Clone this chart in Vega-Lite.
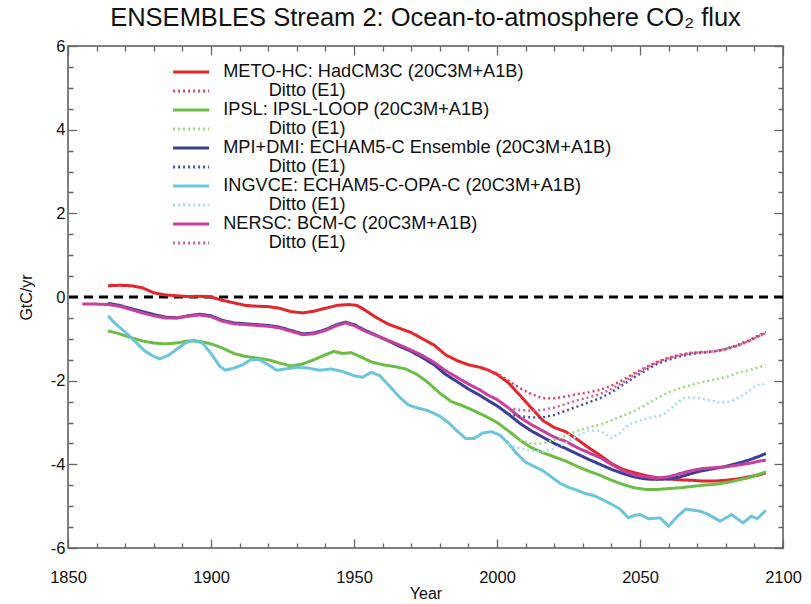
{
  "$schema": "https://vega.github.io/schema/vega-lite/v6.json",
  "width": 715,
  "height": 502,
  "autosize": "none",
  "padding": {"left": 68, "top": 46, "right": 28, "bottom": 56},
  "background": "white",
  "config": {
    "font": "Liberation Sans",
    "view": {"stroke": "#555", "strokeWidth": 1.5},
    "axis": {"labelFont": "Liberation Sans", "titleFont": "Liberation Sans", "labelColor": "#111", "titleColor": "#111", "domain": false, "grid": false, "labelFontSize": 16.5, "titleFontSize": 16, "titleFontWeight": "normal", "labelOverlap": false, "labelFlush": false, "ticks": true, "tickColor": "#666", "tickWidth": 1.3, "tickSize": 9, "offset": -9}
  },
  "title": {"text": "ENSEMBLES Stream 2: Ocean-to-atmosphere CO₂ flux", "fontSize": 25.5, "fontWeight": "normal", "font": "Liberation Sans", "color": "#111", "anchor": "middle", "offset": 7},
  "datasets": {
    "solid": [
      {"k":"S1","x":1864,"y":0.27},{"k":"S1","x":1868,"y":0.28},{"k":"S1","x":1872,"y":0.27},{"k":"S1","x":1876,"y":0.22},{"k":"S1","x":1880,"y":0.1},{"k":"S1","x":1884,"y":0.05},{"k":"S1","x":1888,"y":0.03},{"k":"S1","x":1892,"y":0.01},{"k":"S1","x":1896,"y":0.02},{"k":"S1","x":1900,"y":0.0},{"k":"S1","x":1904,"y":-0.08},{"k":"S1","x":1908,"y":-0.14},{"k":"S1","x":1912,"y":-0.2},{"k":"S1","x":1916,"y":-0.22},{"k":"S1","x":1920,"y":-0.23},{"k":"S1","x":1924,"y":-0.27},{"k":"S1","x":1928,"y":-0.35},{"k":"S1","x":1932,"y":-0.38},{"k":"S1","x":1936,"y":-0.34},{"k":"S1","x":1940,"y":-0.27},{"k":"S1","x":1944,"y":-0.2},{"k":"S1","x":1948,"y":-0.18},{"k":"S1","x":1951,"y":-0.2},{"k":"S1","x":1954,"y":-0.32},{"k":"S1","x":1958,"y":-0.5},{"k":"S1","x":1962,"y":-0.65},{"k":"S1","x":1966,"y":-0.75},{"k":"S1","x":1970,"y":-0.85},{"k":"S1","x":1974,"y":-1.0},{"k":"S1","x":1978,"y":-1.15},{"k":"S1","x":1982,"y":-1.38},{"k":"S1","x":1986,"y":-1.52},{"k":"S1","x":1990,"y":-1.62},{"k":"S1","x":1994,"y":-1.68},{"k":"S1","x":1997,"y":-1.75},{"k":"S1","x":2000,"y":-1.85},{"k":"S1","x":2004,"y":-2.05},{"k":"S1","x":2008,"y":-2.35},{"k":"S1","x":2012,"y":-2.65},{"k":"S1","x":2016,"y":-2.95},{"k":"S1","x":2020,"y":-3.12},{"k":"S1","x":2024,"y":-3.22},{"k":"S1","x":2028,"y":-3.4},{"k":"S1","x":2032,"y":-3.6},{"k":"S1","x":2036,"y":-3.78},{"k":"S1","x":2040,"y":-3.98},{"k":"S1","x":2044,"y":-4.12},{"k":"S1","x":2048,"y":-4.2},{"k":"S1","x":2052,"y":-4.27},{"k":"S1","x":2056,"y":-4.32},{"k":"S1","x":2060,"y":-4.35},{"k":"S1","x":2064,"y":-4.37},{"k":"S1","x":2068,"y":-4.38},{"k":"S1","x":2072,"y":-4.4},{"k":"S1","x":2076,"y":-4.4},{"k":"S1","x":2080,"y":-4.38},{"k":"S1","x":2084,"y":-4.35},{"k":"S1","x":2088,"y":-4.3},{"k":"S1","x":2092,"y":-4.25},{"k":"S1","x":2094,"y":-4.2},
      {"k":"S2","x":1864,"y":-0.81},{"k":"S2","x":1868,"y":-0.88},{"k":"S2","x":1872,"y":-0.97},{"k":"S2","x":1876,"y":-1.05},{"k":"S2","x":1880,"y":-1.1},{"k":"S2","x":1884,"y":-1.12},{"k":"S2","x":1888,"y":-1.1},{"k":"S2","x":1892,"y":-1.05},{"k":"S2","x":1896,"y":-1.06},{"k":"S2","x":1900,"y":-1.12},{"k":"S2","x":1904,"y":-1.22},{"k":"S2","x":1908,"y":-1.35},{"k":"S2","x":1912,"y":-1.42},{"k":"S2","x":1916,"y":-1.46},{"k":"S2","x":1920,"y":-1.5},{"k":"S2","x":1924,"y":-1.58},{"k":"S2","x":1928,"y":-1.65},{"k":"S2","x":1932,"y":-1.6},{"k":"S2","x":1936,"y":-1.5},{"k":"S2","x":1940,"y":-1.38},{"k":"S2","x":1943,"y":-1.3},{"k":"S2","x":1946,"y":-1.35},{"k":"S2","x":1949,"y":-1.33},{"k":"S2","x":1952,"y":-1.42},{"k":"S2","x":1956,"y":-1.55},{"k":"S2","x":1960,"y":-1.62},{"k":"S2","x":1964,"y":-1.66},{"k":"S2","x":1968,"y":-1.72},{"k":"S2","x":1972,"y":-1.85},{"k":"S2","x":1976,"y":-2.05},{"k":"S2","x":1980,"y":-2.3},{"k":"S2","x":1984,"y":-2.5},{"k":"S2","x":1988,"y":-2.6},{"k":"S2","x":1992,"y":-2.72},{"k":"S2","x":1996,"y":-2.85},{"k":"S2","x":2000,"y":-3.0},{"k":"S2","x":2004,"y":-3.2},{"k":"S2","x":2008,"y":-3.42},{"k":"S2","x":2012,"y":-3.6},{"k":"S2","x":2016,"y":-3.72},{"k":"S2","x":2020,"y":-3.82},{"k":"S2","x":2024,"y":-3.92},{"k":"S2","x":2028,"y":-4.05},{"k":"S2","x":2032,"y":-4.16},{"k":"S2","x":2036,"y":-4.26},{"k":"S2","x":2040,"y":-4.38},{"k":"S2","x":2044,"y":-4.48},{"k":"S2","x":2048,"y":-4.56},{"k":"S2","x":2052,"y":-4.6},{"k":"S2","x":2056,"y":-4.6},{"k":"S2","x":2060,"y":-4.58},{"k":"S2","x":2064,"y":-4.56},{"k":"S2","x":2068,"y":-4.53},{"k":"S2","x":2072,"y":-4.5},{"k":"S2","x":2076,"y":-4.48},{"k":"S2","x":2080,"y":-4.44},{"k":"S2","x":2084,"y":-4.38},{"k":"S2","x":2088,"y":-4.32},{"k":"S2","x":2092,"y":-4.23},{"k":"S2","x":2094,"y":-4.18},
      {"k":"S4","x":1864,"y":-0.45},{"k":"S4","x":1866,"y":-0.6},{"k":"S4","x":1868,"y":-0.72},{"k":"S4","x":1871,"y":-0.9},{"k":"S4","x":1874,"y":-1.1},{"k":"S4","x":1877,"y":-1.3},{"k":"S4","x":1880,"y":-1.42},{"k":"S4","x":1882,"y":-1.48},{"k":"S4","x":1885,"y":-1.4},{"k":"S4","x":1888,"y":-1.25},{"k":"S4","x":1891,"y":-1.1},{"k":"S4","x":1894,"y":-1.03},{"k":"S4","x":1897,"y":-1.1},{"k":"S4","x":1900,"y":-1.35},{"k":"S4","x":1903,"y":-1.65},{"k":"S4","x":1905,"y":-1.75},{"k":"S4","x":1908,"y":-1.7},{"k":"S4","x":1911,"y":-1.62},{"k":"S4","x":1914,"y":-1.5},{"k":"S4","x":1917,"y":-1.5},{"k":"S4","x":1920,"y":-1.62},{"k":"S4","x":1923,"y":-1.75},{"k":"S4","x":1926,"y":-1.72},{"k":"S4","x":1930,"y":-1.68},{"k":"S4","x":1934,"y":-1.7},{"k":"S4","x":1938,"y":-1.75},{"k":"S4","x":1942,"y":-1.72},{"k":"S4","x":1946,"y":-1.78},{"k":"S4","x":1950,"y":-1.88},{"k":"S4","x":1953,"y":-1.92},{"k":"S4","x":1956,"y":-1.8},{"k":"S4","x":1959,"y":-1.88},{"k":"S4","x":1962,"y":-2.1},{"k":"S4","x":1966,"y":-2.4},{"k":"S4","x":1969,"y":-2.58},{"k":"S4","x":1972,"y":-2.65},{"k":"S4","x":1976,"y":-2.72},{"k":"S4","x":1980,"y":-2.85},{"k":"S4","x":1983,"y":-3.0},{"k":"S4","x":1986,"y":-3.2},{"k":"S4","x":1989,"y":-3.38},{"k":"S4","x":1992,"y":-3.38},{"k":"S4","x":1995,"y":-3.25},{"k":"S4","x":1998,"y":-3.22},{"k":"S4","x":2001,"y":-3.3},{"k":"S4","x":2004,"y":-3.5},{"k":"S4","x":2007,"y":-3.75},{"k":"S4","x":2010,"y":-3.95},{"k":"S4","x":2013,"y":-4.05},{"k":"S4","x":2016,"y":-4.15},{"k":"S4","x":2019,"y":-4.3},{"k":"S4","x":2022,"y":-4.45},{"k":"S4","x":2025,"y":-4.55},{"k":"S4","x":2028,"y":-4.62},{"k":"S4","x":2031,"y":-4.7},{"k":"S4","x":2034,"y":-4.75},{"k":"S4","x":2037,"y":-4.85},{"k":"S4","x":2040,"y":-4.95},{"k":"S4","x":2043,"y":-5.07},{"k":"S4","x":2046,"y":-5.28},{"k":"S4","x":2048,"y":-5.22},{"k":"S4","x":2050,"y":-5.2},{"k":"S4","x":2053,"y":-5.3},{"k":"S4","x":2057,"y":-5.28},{"k":"S4","x":2060,"y":-5.48},{"k":"S4","x":2063,"y":-5.25},{"k":"S4","x":2066,"y":-5.07},{"k":"S4","x":2069,"y":-5.1},{"k":"S4","x":2071,"y":-5.12},{"k":"S4","x":2074,"y":-5.2},{"k":"S4","x":2078,"y":-5.36},{"k":"S4","x":2082,"y":-5.2},{"k":"S4","x":2086,"y":-5.4},{"k":"S4","x":2089,"y":-5.24},{"k":"S4","x":2091,"y":-5.3},{"k":"S4","x":2094,"y":-5.1},
      {"k":"S3","x":1864,"y":-0.15},{"k":"S3","x":1868,"y":-0.2},{"k":"S3","x":1872,"y":-0.28},{"k":"S3","x":1876,"y":-0.35},{"k":"S3","x":1880,"y":-0.42},{"k":"S3","x":1884,"y":-0.48},{"k":"S3","x":1888,"y":-0.5},{"k":"S3","x":1892,"y":-0.45},{"k":"S3","x":1896,"y":-0.41},{"k":"S3","x":1900,"y":-0.45},{"k":"S3","x":1904,"y":-0.56},{"k":"S3","x":1908,"y":-0.62},{"k":"S3","x":1912,"y":-0.64},{"k":"S3","x":1916,"y":-0.66},{"k":"S3","x":1920,"y":-0.68},{"k":"S3","x":1924,"y":-0.72},{"k":"S3","x":1928,"y":-0.8},{"k":"S3","x":1932,"y":-0.88},{"k":"S3","x":1936,"y":-0.86},{"k":"S3","x":1940,"y":-0.78},{"k":"S3","x":1944,"y":-0.66},{"k":"S3","x":1947,"y":-0.6},{"k":"S3","x":1950,"y":-0.66},{"k":"S3","x":1954,"y":-0.8},{"k":"S3","x":1958,"y":-0.92},{"k":"S3","x":1962,"y":-1.05},{"k":"S3","x":1966,"y":-1.18},{"k":"S3","x":1970,"y":-1.3},{"k":"S3","x":1974,"y":-1.45},{"k":"S3","x":1978,"y":-1.62},{"k":"S3","x":1982,"y":-1.85},{"k":"S3","x":1986,"y":-2.02},{"k":"S3","x":1990,"y":-2.2},{"k":"S3","x":1994,"y":-2.35},{"k":"S3","x":1997,"y":-2.48},{"k":"S3","x":2000,"y":-2.6},{"k":"S3","x":2004,"y":-2.8},{"k":"S3","x":2008,"y":-3.02},{"k":"S3","x":2012,"y":-3.2},{"k":"S3","x":2016,"y":-3.35},{"k":"S3","x":2020,"y":-3.5},{"k":"S3","x":2024,"y":-3.62},{"k":"S3","x":2028,"y":-3.75},{"k":"S3","x":2032,"y":-3.88},{"k":"S3","x":2036,"y":-4.0},{"k":"S3","x":2040,"y":-4.12},{"k":"S3","x":2044,"y":-4.22},{"k":"S3","x":2048,"y":-4.3},{"k":"S3","x":2052,"y":-4.35},{"k":"S3","x":2056,"y":-4.36},{"k":"S3","x":2060,"y":-4.35},{"k":"S3","x":2064,"y":-4.3},{"k":"S3","x":2068,"y":-4.22},{"k":"S3","x":2072,"y":-4.15},{"k":"S3","x":2076,"y":-4.1},{"k":"S3","x":2080,"y":-4.05},{"k":"S3","x":2084,"y":-3.98},{"k":"S3","x":2088,"y":-3.9},{"k":"S3","x":2092,"y":-3.8},{"k":"S3","x":2094,"y":-3.74},
      {"k":"S5","x":1855,"y":-0.17},{"k":"S5","x":1860,"y":-0.17},{"k":"S5","x":1864,"y":-0.18},{"k":"S5","x":1868,"y":-0.22},{"k":"S5","x":1872,"y":-0.3},{"k":"S5","x":1876,"y":-0.38},{"k":"S5","x":1880,"y":-0.45},{"k":"S5","x":1884,"y":-0.5},{"k":"S5","x":1888,"y":-0.5},{"k":"S5","x":1892,"y":-0.46},{"k":"S5","x":1896,"y":-0.43},{"k":"S5","x":1900,"y":-0.47},{"k":"S5","x":1904,"y":-0.58},{"k":"S5","x":1908,"y":-0.64},{"k":"S5","x":1912,"y":-0.66},{"k":"S5","x":1916,"y":-0.68},{"k":"S5","x":1920,"y":-0.7},{"k":"S5","x":1924,"y":-0.74},{"k":"S5","x":1928,"y":-0.82},{"k":"S5","x":1932,"y":-0.9},{"k":"S5","x":1936,"y":-0.88},{"k":"S5","x":1940,"y":-0.8},{"k":"S5","x":1944,"y":-0.68},{"k":"S5","x":1947,"y":-0.62},{"k":"S5","x":1950,"y":-0.68},{"k":"S5","x":1954,"y":-0.82},{"k":"S5","x":1958,"y":-0.93},{"k":"S5","x":1962,"y":-1.04},{"k":"S5","x":1966,"y":-1.15},{"k":"S5","x":1970,"y":-1.27},{"k":"S5","x":1974,"y":-1.4},{"k":"S5","x":1978,"y":-1.56},{"k":"S5","x":1982,"y":-1.76},{"k":"S5","x":1986,"y":-1.92},{"k":"S5","x":1990,"y":-2.08},{"k":"S5","x":1994,"y":-2.22},{"k":"S5","x":1997,"y":-2.35},{"k":"S5","x":2000,"y":-2.45},{"k":"S5","x":2004,"y":-2.65},{"k":"S5","x":2008,"y":-2.88},{"k":"S5","x":2012,"y":-3.05},{"k":"S5","x":2016,"y":-3.2},{"k":"S5","x":2020,"y":-3.35},{"k":"S5","x":2024,"y":-3.45},{"k":"S5","x":2028,"y":-3.6},{"k":"S5","x":2032,"y":-3.72},{"k":"S5","x":2036,"y":-3.84},{"k":"S5","x":2040,"y":-4.0},{"k":"S5","x":2044,"y":-4.15},{"k":"S5","x":2048,"y":-4.25},{"k":"S5","x":2052,"y":-4.3},{"k":"S5","x":2056,"y":-4.33},{"k":"S5","x":2060,"y":-4.3},{"k":"S5","x":2064,"y":-4.22},{"k":"S5","x":2068,"y":-4.15},{"k":"S5","x":2072,"y":-4.1},{"k":"S5","x":2076,"y":-4.08},{"k":"S5","x":2080,"y":-4.06},{"k":"S5","x":2084,"y":-4.02},{"k":"S5","x":2088,"y":-3.98},{"k":"S5","x":2092,"y":-3.92},{"k":"S5","x":2094,"y":-3.9}
    ],
    "dotted": [
      {"k":"D4","x":2004,"y":-3.5},{"k":"D4","x":2008,"y":-3.62},{"k":"D4","x":2012,"y":-3.68},{"k":"D4","x":2016,"y":-3.7},{"k":"D4","x":2020,"y":-3.62},{"k":"D4","x":2024,"y":-3.5},{"k":"D4","x":2028,"y":-3.32},{"k":"D4","x":2032,"y":-3.2},{"k":"D4","x":2036,"y":-3.2},{"k":"D4","x":2040,"y":-3.37},{"k":"D4","x":2043,"y":-3.25},{"k":"D4","x":2046,"y":-3.05},{"k":"D4","x":2050,"y":-2.95},{"k":"D4","x":2054,"y":-2.88},{"k":"D4","x":2058,"y":-2.82},{"k":"D4","x":2062,"y":-2.6},{"k":"D4","x":2065,"y":-2.42},{"k":"D4","x":2068,"y":-2.4},{"k":"D4","x":2071,"y":-2.42},{"k":"D4","x":2075,"y":-2.48},{"k":"D4","x":2078,"y":-2.53},{"k":"D4","x":2082,"y":-2.49},{"k":"D4","x":2086,"y":-2.35},{"k":"D4","x":2090,"y":-2.15},{"k":"D4","x":2092,"y":-2.08},{"k":"D4","x":2094,"y":-2.1},
      {"k":"D2","x":2008,"y":-3.42},{"k":"D2","x":2012,"y":-3.5},{"k":"D2","x":2016,"y":-3.5},{"k":"D2","x":2020,"y":-3.42},{"k":"D2","x":2024,"y":-3.32},{"k":"D2","x":2028,"y":-3.2},{"k":"D2","x":2032,"y":-3.12},{"k":"D2","x":2036,"y":-3.05},{"k":"D2","x":2040,"y":-2.95},{"k":"D2","x":2044,"y":-2.84},{"k":"D2","x":2048,"y":-2.72},{"k":"D2","x":2052,"y":-2.58},{"k":"D2","x":2056,"y":-2.42},{"k":"D2","x":2060,"y":-2.28},{"k":"D2","x":2064,"y":-2.18},{"k":"D2","x":2068,"y":-2.1},{"k":"D2","x":2072,"y":-2.03},{"k":"D2","x":2076,"y":-1.97},{"k":"D2","x":2080,"y":-1.92},{"k":"D2","x":2084,"y":-1.82},{"k":"D2","x":2088,"y":-1.75},{"k":"D2","x":2092,"y":-1.67},{"k":"D2","x":2094,"y":-1.63},
      {"k":"D3","x":2004,"y":-2.8},{"k":"D3","x":2008,"y":-2.85},{"k":"D3","x":2012,"y":-2.88},{"k":"D3","x":2016,"y":-2.88},{"k":"D3","x":2020,"y":-2.82},{"k":"D3","x":2024,"y":-2.72},{"k":"D3","x":2028,"y":-2.62},{"k":"D3","x":2032,"y":-2.52},{"k":"D3","x":2036,"y":-2.42},{"k":"D3","x":2040,"y":-2.28},{"k":"D3","x":2044,"y":-2.1},{"k":"D3","x":2048,"y":-1.92},{"k":"D3","x":2052,"y":-1.75},{"k":"D3","x":2056,"y":-1.6},{"k":"D3","x":2060,"y":-1.5},{"k":"D3","x":2064,"y":-1.42},{"k":"D3","x":2068,"y":-1.36},{"k":"D3","x":2072,"y":-1.33},{"k":"D3","x":2076,"y":-1.3},{"k":"D3","x":2080,"y":-1.24},{"k":"D3","x":2084,"y":-1.15},{"k":"D3","x":2088,"y":-1.04},{"k":"D3","x":2092,"y":-0.9},{"k":"D3","x":2094,"y":-0.84},
      {"k":"D5","x":2004,"y":-2.65},{"k":"D5","x":2008,"y":-2.7},{"k":"D5","x":2012,"y":-2.72},{"k":"D5","x":2016,"y":-2.7},{"k":"D5","x":2020,"y":-2.64},{"k":"D5","x":2024,"y":-2.56},{"k":"D5","x":2028,"y":-2.47},{"k":"D5","x":2032,"y":-2.4},{"k":"D5","x":2036,"y":-2.32},{"k":"D5","x":2040,"y":-2.2},{"k":"D5","x":2044,"y":-2.04},{"k":"D5","x":2048,"y":-1.86},{"k":"D5","x":2052,"y":-1.7},{"k":"D5","x":2056,"y":-1.56},{"k":"D5","x":2060,"y":-1.46},{"k":"D5","x":2064,"y":-1.39},{"k":"D5","x":2068,"y":-1.34},{"k":"D5","x":2072,"y":-1.32},{"k":"D5","x":2076,"y":-1.3},{"k":"D5","x":2080,"y":-1.24},{"k":"D5","x":2084,"y":-1.16},{"k":"D5","x":2088,"y":-1.05},{"k":"D5","x":2092,"y":-0.92},{"k":"D5","x":2094,"y":-0.86},
      {"k":"D1","x":1996,"y":-1.72},{"k":"D1","x":2000,"y":-1.82},{"k":"D1","x":2004,"y":-2.0},{"k":"D1","x":2008,"y":-2.18},{"k":"D1","x":2012,"y":-2.32},{"k":"D1","x":2016,"y":-2.42},{"k":"D1","x":2020,"y":-2.42},{"k":"D1","x":2024,"y":-2.38},{"k":"D1","x":2028,"y":-2.32},{"k":"D1","x":2032,"y":-2.28},{"k":"D1","x":2036,"y":-2.22},{"k":"D1","x":2040,"y":-2.12},{"k":"D1","x":2044,"y":-1.98},{"k":"D1","x":2048,"y":-1.82},{"k":"D1","x":2052,"y":-1.68},{"k":"D1","x":2056,"y":-1.55},{"k":"D1","x":2060,"y":-1.45},{"k":"D1","x":2064,"y":-1.38},{"k":"D1","x":2068,"y":-1.33},{"k":"D1","x":2072,"y":-1.32},{"k":"D1","x":2076,"y":-1.3},{"k":"D1","x":2080,"y":-1.25},{"k":"D1","x":2084,"y":-1.17},{"k":"D1","x":2088,"y":-1.06},{"k":"D1","x":2092,"y":-0.92},{"k":"D1","x":2094,"y":-0.86}
    ],
    "zero": [{"z": 0}]
  },
  "layer": [
    {
      "data": {"name": "zero"},
      "mark": {"type": "rule", "strokeDash": [9, 6], "strokeWidth": 3, "color": "#000"},
      "encoding": {
        "y": {"field": "z", "type": "quantitative", "axis": null, "scale": {"domain": [-6, 6], "nice": false}}
      }
    },
    {
      "data": {"name": "solid"},
      "mark": {"type": "line", "strokeWidth": 3},
      "encoding": {
        "x": {"field": "x", "type": "quantitative", "scale": {"domain": [1850, 2100], "nice": false, "zero": false},
          "axis": {"orient": "bottom", "title": "Year", "values": [1850,1860,1870,1880,1890,1900,1910,1920,1930,1940,1950,1960,1970,1980,1990,2000,2010,2020,2030,2040,2050,2060,2070,2080,2090,2100],
            "tickDash": {"condition": {"test": "datum.value % 50 !== 0", "value": [0, 4, 5, 30]}, "value": [20, 1]},
            "labelExpr": "datum.value % 50 === 0 ? datum.label : ''", "format": "d", "labelPadding": 21, "titlePadding": 0}},
        "y": {"field": "y", "type": "quantitative", "scale": {"domain": [-6, 6], "nice": false},
          "axis": {"orient": "left", "title": "GtC/yr", "values": [-6,-5.5,-5,-4.5,-4,-3.5,-3,-2.5,-2,-1.5,-1,-0.5,0,0.5,1,1.5,2,2.5,3,3.5,4,4.5,5,5.5,6],
            "tickDash": {"condition": {"test": "datum.value % 2 !== 0", "value": [0, 4, 5, 30]}, "value": [20, 1]},
            "labelExpr": "datum.value % 2 === 0 ? '' + datum.value : ''", "labelPadding": 3, "titlePadding": 16}},
        "color": {"field": "k", "type": "nominal",
          "scale": {"domain": ["S1","D1","S2","D2","S3","D3","S4","D4","S5","D5"],
            "range": ["#e3262b","#e0455a","#6cbd45","#a5d67a","#393f98","#4b50a5","#6cc5d8","#aadbe8","#c93f9c","#d45aa5"]},
          "legend": {"orient": "none", "legendX": 114, "legendY": 17, "title": null, "padding": 0,
            "symbolType": "M-3,0H3", "symbolSize": 144, "symbolStrokeWidth": 3, "labelOffset": 23,
            "labelFont": "Liberation Sans", "labelFontSize": 18.2, "labelColor": "#111", "labelLimit": 700, "rowPadding": 0,
            "labelExpr": "datum.label == 'S1' ? 'METO-HC: HadCM3C (20C3M+A1B)' : datum.label == 'S2' ? 'IPSL: IPSL-LOOP (20C3M+A1B)' : datum.label == 'S3' ? 'MPI+DMI: ECHAM5-C Ensemble (20C3M+A1B)' : datum.label == 'S4' ? 'INGVCE: ECHAM5-C-OPA-C (20C3M+A1B)' : datum.label == 'S5' ? 'NERSC: BCM-C (20C3M+A1B)' : '\u200b\u00a0\u00a0\u00a0\u00a0\u00a0\u00a0\u00a0\u00a0\u00a0Ditto (E1)'"}},
        "strokeDash": {"field": "k", "type": "nominal",
          "scale": {"domain": ["S1","D1","S2","D2","S3","D3","S4","D4","S5","D5"],
            "range": [[1,0],[2,3],[1,0],[2,3],[1,0],[2,3],[1,0],[2,3],[1,0],[2,3]]}}
      }
    },
    {
      "data": {"name": "dotted"},
      "mark": {"type": "line", "strokeWidth": 2.5},
      "encoding": {
        "x": {"field": "x", "type": "quantitative", "scale": {"domain": [1850, 2100], "nice": false, "zero": false},
          "axis": {"orient": "top", "title": null, "labels": false, "values": [1850,1860,1870,1880,1890,1900,1910,1920,1930,1940,1950,1960,1970,1980,1990,2000,2010,2020,2030,2040,2050,2060,2070,2080,2090,2100],
            "tickDash": {"condition": {"test": "datum.value % 50 !== 0", "value": [0, 4, 5, 30]}, "value": [20, 1]}}},
        "y": {"field": "y", "type": "quantitative", "scale": {"domain": [-6, 6], "nice": false},
          "axis": {"orient": "right", "title": null, "labels": false, "values": [-6,-5.5,-5,-4.5,-4,-3.5,-3,-2.5,-2,-1.5,-1,-0.5,0,0.5,1,1.5,2,2.5,3,3.5,4,4.5,5,5.5,6],
            "tickDash": {"condition": {"test": "datum.value % 2 !== 0", "value": [0, 4, 5, 30]}, "value": [20, 1]}}},
        "color": {"field": "k", "type": "nominal"},
        "strokeDash": {"field": "k", "type": "nominal"}
      }
    }
  ],
  "resolve": {"axis": {"x": "independent", "y": "independent"}}
}
